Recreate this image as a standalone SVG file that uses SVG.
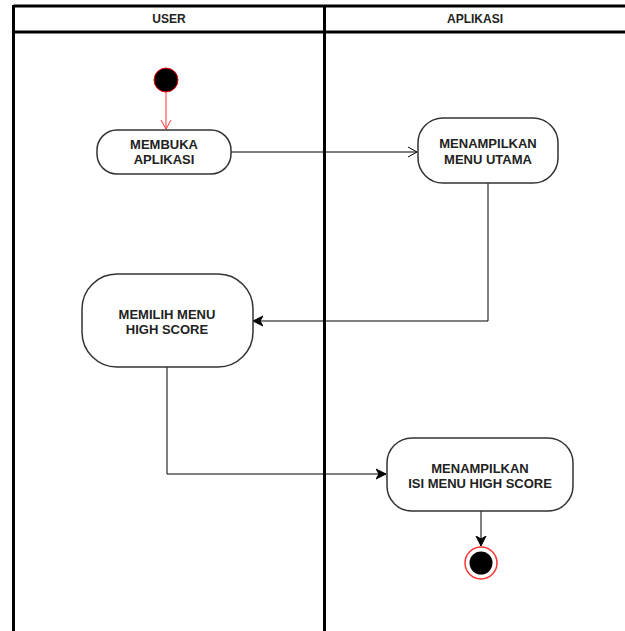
<svg xmlns="http://www.w3.org/2000/svg" width="625" height="631" viewBox="0 0 625 631">
<defs>
<style>
.lane{stroke:#000;stroke-width:3;fill:none}
.node{fill:#fff;stroke:#333;stroke-width:1.5}
.t{font-family:"Liberation Sans",Arial,sans-serif;font-weight:bold;font-size:13px;fill:#222;text-anchor:middle}
.h{font-family:"Liberation Sans",Arial,sans-serif;font-weight:bold;font-size:12px;fill:#222;text-anchor:middle}
.c{stroke:#000;stroke-width:1;fill:none}
</style>
<marker id="open" markerWidth="12" markerHeight="12" refX="10" refY="6" orient="auto" markerUnits="userSpaceOnUse">
<path d="M1,1 L10,6 L1,11" fill="none" stroke="#000" stroke-width="1"/>
</marker>
<marker id="openRed" markerWidth="12" markerHeight="12" refX="10" refY="6" orient="auto" markerUnits="userSpaceOnUse">
<path d="M1,1 L10,6 L1,11" fill="none" stroke="#ff3333" stroke-width="1"/>
</marker>
<marker id="block" markerWidth="12" markerHeight="12" refX="10" refY="6" orient="auto" markerUnits="userSpaceOnUse">
<path d="M0,1 L10,6 L0,11 L3,6 Z" fill="#000" stroke="#000" stroke-width="1"/>
</marker>
</defs>
<rect width="625" height="631" fill="#fff"/>
<g id="lanes">
<line class="lane" x1="13.5" y1="6" x2="625" y2="6"/>
<line class="lane" x1="13.5" y1="32" x2="625" y2="32"/>
<line class="lane" x1="13.5" y1="5" x2="13.5" y2="631"/>
<line class="lane" x1="324.5" y1="5" x2="324.5" y2="631"/>
<text class="h" x="169" y="23">USER</text>
<text class="h" x="475" y="23">APLIKASI</text>
</g>
<g id="connectors">
<line x1="166" y1="92" x2="166" y2="129" stroke="#ff3333" stroke-width="1" marker-end="url(#openRed)"/>
<line class="c" x1="231" y1="152" x2="417" y2="152" marker-end="url(#open)"/>
<polyline class="c" points="488,183 488,321 253,321" marker-end="url(#block)"/>
<polyline class="c" points="167,367 167,474 386,474" marker-end="url(#block)"/>
<line class="c" x1="481" y1="511" x2="481" y2="546" marker-end="url(#block)"/>
</g>
<g id="start">
<circle cx="166" cy="80" r="12" fill="#000" stroke="#ff0000" stroke-width="1"/>
</g>
<g id="membuka">
<rect class="node" x="97" y="130" width="134" height="44" rx="20"/>
<text class="t" x="164" y="149">MEMBUKA</text>
<text class="t" x="164" y="164">APLIKASI</text>
</g>
<g id="menu-utama">
<rect class="node" x="418" y="118" width="140" height="65" rx="25"/>
<text class="t" x="488" y="148">MENAMPILKAN</text>
<text class="t" x="488" y="164">MENU UTAMA</text>
</g>
<g id="memilih">
<rect class="node" x="82" y="274" width="171" height="93" rx="35"/>
<text class="t" x="167" y="319">MEMILIH MENU</text>
<text class="t" x="167" y="334">HIGH SCORE</text>
</g>
<g id="isi-menu">
<rect class="node" x="387" y="438" width="186" height="73" rx="25"/>
<text class="t" x="480" y="473">MENAMPILKAN</text>
<text class="t" x="480" y="488">ISI MENU HIGH SCORE</text>
</g>
<g id="end">
<circle cx="481" cy="563" r="16" fill="#fff" stroke="#ff3333" stroke-width="1.5"/>
<circle cx="481" cy="563" r="11.5" fill="#000"/>
</g>
</svg>
